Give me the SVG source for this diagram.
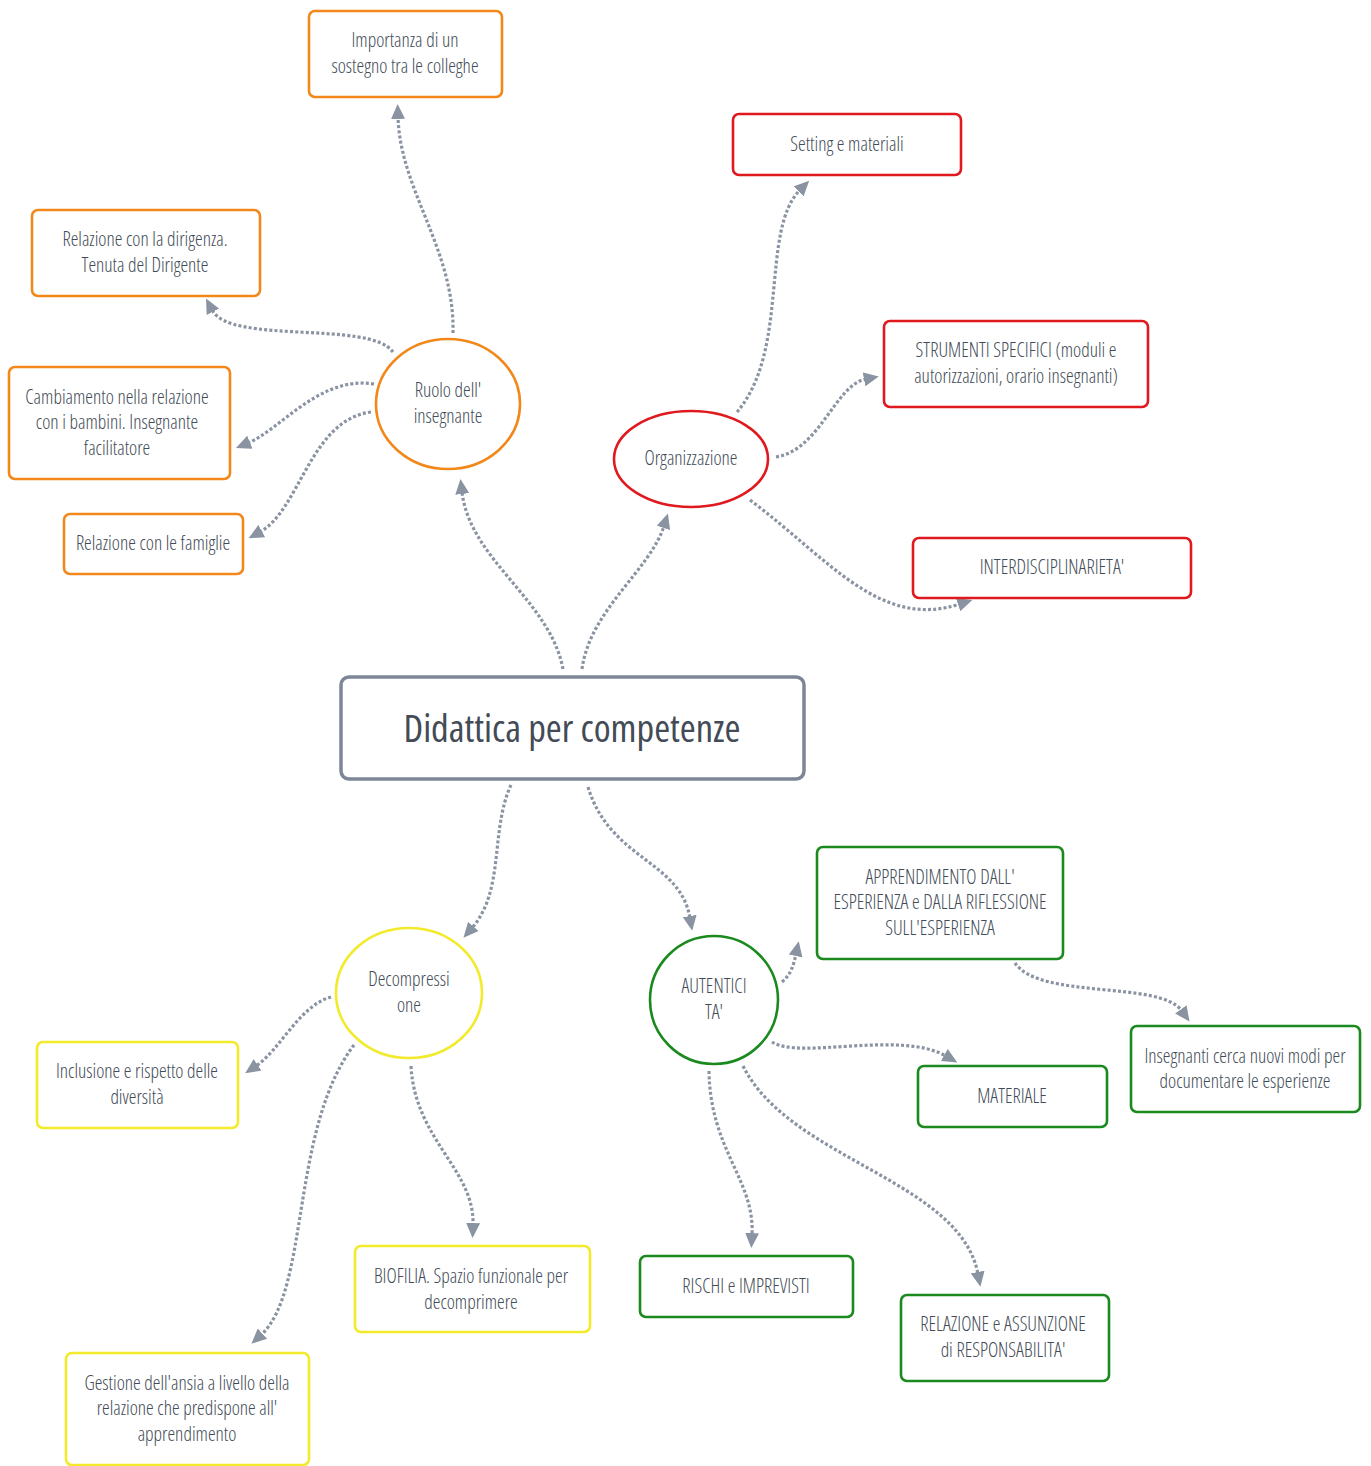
<svg xmlns="http://www.w3.org/2000/svg" width="1371" height="1466" viewBox="0 0 1371 1466">
  <style>
    text { font-family: "Open Sans", "Liberation Sans", sans-serif; font-stretch: condensed; font-size: 19.4px; font-weight: 300; fill: #424b56; text-anchor: middle; }
    .title { font-size: 38.5px; font-weight: 400; }
    .box { fill: #ffffff; stroke-width: 2.6; }
    .orange { stroke: #f2871a; }
    .red { stroke: #e0191f; }
    .yellow { stroke: #f2ea2a; }
    .green { stroke: #1b8a1e; }
    .main { fill: #ffffff; stroke: #7d8696; stroke-width: 3.5; }
    .link { fill: none; stroke: #8a93a2; stroke-width: 3.2; stroke-dasharray: 3 2.2; marker-end: url(#arrow); }
  </style>
  <defs>
    <marker id="arrow" markerUnits="userSpaceOnUse" markerWidth="16" markerHeight="14" refX="2" refY="7" orient="auto">
      <path d="M0,0 L15,7 L0,14 Z" fill="#8a93a2"/>
    </marker>
  </defs>
  <rect width="1371" height="1466" fill="#ffffff"/>

  <!-- connectors -->
  <g id="connectors">
    <path class="link" d="M563,669 C550,600 470,560 462,492"/>
    <path class="link" d="M582,669 C590,610 650,570 664,526"/>
    <path class="link" d="M453,333 C455,250 400,190 398,117"/>
    <path class="link" d="M393,352 C370,320 230,345 212,310"/>
    <path class="link" d="M374,384 C320,375 280,430 248,443"/>
    <path class="link" d="M371,412 C310,420 300,510 260,532"/>
    <path class="link" d="M737,412 C790,350 760,230 800,190"/>
    <path class="link" d="M776,457 C820,450 835,385 866,379"/>
    <path class="link" d="M750,500 C830,560 880,630 960,604"/>
    <path class="link" d="M511,785 C490,830 505,890 472,928"/>
    <path class="link" d="M588,787 C610,860 680,860 690,918"/>
    <path class="link" d="M331,997 C300,1005 280,1050 256,1066"/>
    <path class="link" d="M354,1045 C290,1130 310,1290 261,1335"/>
    <path class="link" d="M411,1066 C415,1140 475,1170 473,1225"/>
    <path class="link" d="M782,982 C790,975 793,968 796,954"/>
    <path class="link" d="M772,1042 C800,1060 900,1030 946,1056"/>
    <path class="link" d="M1015,963 C1040,1000 1160,980 1182,1011"/>
    <path class="link" d="M709,1071 C710,1150 755,1180 752,1235"/>
    <path class="link" d="M743,1066 C790,1160 960,1180 978,1274"/>
  </g>

  <!-- central topic -->
  <g id="node-didattica">
    <rect class="main" x="341" y="677" width="463" height="102" rx="8"/>
    <text class="title" x="572" y="742">Didattica per competenze</text>
  </g>

  <!-- main branches -->
  <g id="node-ruolo">
    <ellipse class="box orange" cx="448" cy="404" rx="72" ry="65"/>
    <text x="448" y="397">Ruolo dell'</text>
    <text x="448" y="423">insegnante</text>
  </g>
  <g id="node-organizzazione">
    <ellipse class="box red" cx="691" cy="459" rx="77" ry="48"/>
    <text x="691" y="465">Organizzazione</text>
  </g>
  <g id="node-decompressione">
    <ellipse class="box yellow" cx="409" cy="993" rx="73" ry="65"/>
    <text x="409" y="986">Decompressi</text>
    <text x="409" y="1012">one</text>
  </g>
  <g id="node-autenticita">
    <ellipse class="box green" cx="714" cy="1000" rx="64" ry="64"/>
    <text x="714" y="993">AUTENTICI</text>
    <text x="714" y="1019">TA'</text>
  </g>

  <!-- Ruolo dell'insegnante -->
  <g id="node-importanza">
    <rect class="box orange" x="309" y="11" width="193" height="86" rx="6"/>
    <text x="405" y="47">Importanza di un</text>
    <text x="405" y="73">sostegno tra le colleghe</text>
  </g>
  <g id="node-dirigenza">
    <rect class="box orange" x="32" y="210" width="228" height="86" rx="6"/>
    <text x="145" y="246">Relazione con la dirigenza.</text>
    <text x="145" y="272">Tenuta del Dirigente</text>
  </g>
  <g id="node-cambiamento">
    <rect class="box orange" x="9" y="367" width="221" height="112" rx="6"/>
    <text x="117" y="404">Cambiamento nella relazione</text>
    <text x="117" y="429">con i bambini. Insegnante</text>
    <text x="117" y="455">facilitatore</text>
  </g>
  <g id="node-famiglie">
    <rect class="box orange" x="64" y="514" width="179" height="60" rx="6"/>
    <text x="153" y="550">Relazione con le famiglie</text>
  </g>

  <!-- Organizzazione -->
  <g id="node-setting">
    <rect class="box red" x="733" y="114" width="228" height="61" rx="6"/>
    <text x="847" y="151">Setting e materiali</text>
  </g>
  <g id="node-strumenti">
    <rect class="box red" x="884" y="321" width="264" height="86" rx="6"/>
    <text x="1016" y="357">STRUMENTI SPECIFICI (moduli e</text>
    <text x="1016" y="383">autorizzazioni, orario insegnanti)</text>
  </g>
  <g id="node-interdisciplinarieta">
    <rect class="box red" x="913" y="538" width="278" height="60" rx="6"/>
    <text x="1052" y="574">INTERDISCIPLINARIETA'</text>
  </g>

  <!-- Autenticità -->
  <g id="node-apprendimento">
    <rect class="box green" x="817" y="847" width="246" height="112" rx="6"/>
    <text x="940" y="884">APPRENDIMENTO DALL'</text>
    <text x="940" y="909">ESPERIENZA e DALLA RIFLESSIONE</text>
    <text x="940" y="935">SULL'ESPERIENZA</text>
  </g>
  <g id="node-documentare">
    <rect class="box green" x="1131" y="1026" width="229" height="86" rx="6"/>
    <text x="1245" y="1063">Insegnanti cerca nuovi modi per</text>
    <text x="1245" y="1088">documentare le esperienze</text>
  </g>
  <g id="node-materiale">
    <rect class="box green" x="918" y="1066" width="189" height="61" rx="6"/>
    <text x="1012" y="1103">MATERIALE</text>
  </g>
  <g id="node-rischi">
    <rect class="box green" x="640" y="1256" width="213" height="61" rx="6"/>
    <text x="746" y="1293">RISCHI e IMPREVISTI</text>
  </g>
  <g id="node-responsabilita">
    <rect class="box green" x="901" y="1295" width="208" height="86" rx="6"/>
    <text x="1003" y="1331">RELAZIONE e ASSUNZIONE</text>
    <text x="1003" y="1357">di RESPONSABILITA'</text>
  </g>

  <!-- Decompressione -->
  <g id="node-inclusione">
    <rect class="box yellow" x="37" y="1042" width="201" height="86" rx="6"/>
    <text x="137" y="1078">Inclusione e rispetto delle</text>
    <text x="137" y="1104">diversità</text>
  </g>
  <g id="node-biofilia">
    <rect class="box yellow" x="355" y="1246" width="235" height="86" rx="6"/>
    <text x="471" y="1283">BIOFILIA. Spazio funzionale per</text>
    <text x="471" y="1309">decomprimere</text>
  </g>
  <g id="node-gestione">
    <rect class="box yellow" x="66" y="1353" width="243" height="112" rx="6"/>
    <text x="187" y="1390">Gestione dell'ansia a livello della</text>
    <text x="187" y="1415">relazione che predispone all'</text>
    <text x="187" y="1441">apprendimento</text>
  </g>
</svg>
